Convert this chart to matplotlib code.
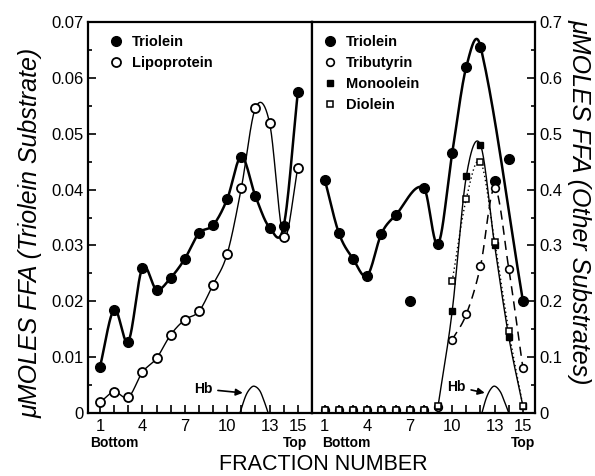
import numpy as np
import matplotlib.pyplot as plt

plt.rcParams['font.family'] = ['Liberation Sans', 'DejaVu Sans']

# fraction numbers (1 = bottom of gradient, 15 = top)
fractions = np.arange(1, 16)

# left panel, umoles FFA with triolein substrate
tri_left = [0.0083, 0.0185, 0.0128, 0.0260, 0.0221, 0.0242, 0.0276, 0.0322,
            0.0336, 0.0383, 0.0459, 0.0388, 0.0332, 0.0335, 0.0575]
lipo_left = [0.0019, 0.0038, 0.0028, 0.0073, 0.0098, 0.0140, 0.0167, 0.0182,
             0.0230, 0.0285, 0.0403, 0.0546, 0.0519, 0.0315, 0.0439]

# right panel, umoles FFA with other substrates
tri_right = [0.418, 0.322, 0.276, 0.246, 0.321, 0.354, 0.200, 0.403,
             0.302, 0.465, 0.620, 0.656, 0.415, 0.454, 0.200]
tri_right_on_curve = [1, 1, 1, 1, 1, 1, 0, 1, 1, 1, 1, 1, 0, 0, 1]
tributyrin = [0.005, 0.005, 0.005, 0.005, 0.005, 0.005, 0.005, 0.005,
              0.010, 0.131, 0.177, 0.263, 0.403, 0.258, 0.080]
monoolein = [0.005, 0.005, 0.005, 0.005, 0.005, 0.005, 0.005, 0.005,
             0.012, 0.182, 0.424, 0.480, 0.300, 0.136, 0.012]
diolein = [0.005, 0.005, 0.005, 0.005, 0.005, 0.005, 0.005, 0.005,
           0.012, 0.236, 0.384, 0.450, 0.307, 0.147, 0.012]

# haemoglobin band outline (fraction, height on each panel's scale)
hb_left_x = [10.9, 11.3, 11.6, 11.9, 12.3, 12.6, 12.9]
hb_left_y = [0.0, 0.0030, 0.0043, 0.0048, 0.0040, 0.0022, 0.0]
hb_right_x = [12.1, 12.4, 12.7, 13.0, 13.4, 13.7, 14.0]
hb_right_y = [0.0, 0.026, 0.042, 0.048, 0.038, 0.020, 0.0]


def smooth(x, y, n=24):
    # cubic hermite curve through the points (cardinal tangents in x),
    # close to the hand-drawn french curves of the original
    x = np.asarray(x, float)
    y = np.asarray(y, float)
    m = np.empty_like(y)
    m[1:-1] = (y[2:] - y[:-2]) / (x[2:] - x[:-2])
    m[0] = (y[1] - y[0]) / (x[1] - x[0])
    m[-1] = (y[-1] - y[-2]) / (x[-1] - x[-2])
    t = np.linspace(0, 1, n, endpoint=False)
    h00 = 2 * t ** 3 - 3 * t ** 2 + 1
    h10 = t ** 3 - 2 * t ** 2 + t
    h01 = -2 * t ** 3 + 3 * t ** 2
    h11 = t ** 3 - t ** 2
    xs, ys = [], []
    for i in range(len(x) - 1):
        h = x[i + 1] - x[i]
        xs.extend(x[i] + h * t)
        ys.extend(h00 * y[i] + h10 * h * m[i] + h01 * y[i + 1] + h11 * h * m[i + 1])
    xs.append(x[-1])
    ys.append(y[-1])
    return np.array(xs), np.array(ys)


fig = plt.figure(figsize=(5.95, 4.76), dpi=100)
axL = fig.add_axes([88 / 595, 63 / 476, 224 / 595, 391 / 476])
axR = fig.add_axes([312 / 595, 63 / 476, 223 / 595, 391 / 476])

# ---- left panel ----
axL.plot(*smooth(fractions, tri_left), color='black', lw=1.8)
axL.plot(*smooth(fractions, lipo_left), color='black', lw=1.0)
axL.plot(fractions, tri_left, 'o', color='black', ms=7, label='Triolein')
axL.plot(fractions, lipo_left, 'o', mfc='white', mec='black', mew=1.3, ms=6.5,
         label='Lipoprotein')
axL.plot(*smooth(hb_left_x, hb_left_y, 12), color='black', lw=1.0)
axL.annotate('Hb', xy=(11.1, 0.0036), xytext=(8.3, 0.0043), ha='center', va='center',
             fontsize=10, fontweight='bold',
             arrowprops=dict(arrowstyle='-|>', color='black', lw=1.2, mutation_scale=10,
                             shrinkA=2, shrinkB=0))

axL.set_xlim(0.15, 16)
axL.set_ylim(0, 0.07)
axL.set_yticks(np.arange(0, 0.0701, 0.01))
axL.set_yticklabels(['0', '0.01', '0.02', '0.03', '0.04', '0.05', '0.06', '0.07'])
axL.set_yticks(np.arange(0.005, 0.07, 0.01), minor=True)
axL.legend(loc='upper left', bbox_to_anchor=(0.04, 1.0), frameon=False, handlelength=0.8,
           handletextpad=0.7, labelspacing=0.5, prop=dict(weight='bold', size=10.5))

# ---- right panel ----
on = np.array(tri_right_on_curve) == 1
axR.plot(*smooth(fractions[on], np.array(tri_right)[on]), color='black', lw=1.8)
axR.plot(*smooth(fractions[9:], tributyrin[9:]), color='black', lw=1.1, ls=(0, (6, 4)))
axR.plot(*smooth(fractions[8:], monoolein[8:]), color='black', lw=1.0)
axR.plot(*smooth(fractions[9:], diolein[9:]), color='black', lw=1.0, ls=(0, (1, 2)))
axR.plot(fractions, tri_right, 'o', color='black', ms=7, label='Triolein')
axR.plot(fractions, tributyrin, 'o', mfc='white', mec='black', mew=1.2, ms=5.5,
         label='Tributyrin')
axR.plot(fractions, monoolein, 's', color='black', ms=4.5, label='Monoolein')
axR.plot(fractions, diolein, 's', mfc='white', mec='black', mew=1.1, ms=4.5, label='Diolein')
axR.plot(*smooth(hb_right_x, hb_right_y, 12), color='black', lw=1.0)
axR.annotate('Hb', xy=(12.3, 0.036), xytext=(10.3, 0.047), ha='center', va='center',
             fontsize=10, fontweight='bold',
             arrowprops=dict(arrowstyle='-|>', color='black', lw=1.2, mutation_scale=10,
                             shrinkA=2, shrinkB=0))

axR.set_xlim(0.1, 15.85)
axR.set_ylim(0, 0.7)
axR.yaxis.tick_right()
axR.set_yticks(np.arange(0, 0.701, 0.1))
axR.set_yticklabels(['0', '0.1', '0.2', '0.3', '0.4', '0.5', '0.6', '0.7'])
axR.set_yticks(np.arange(0.05, 0.7, 0.1), minor=True)
axR.legend(loc='upper left', bbox_to_anchor=(-0.005, 1.0), frameon=False, handlelength=0.8,
           handletextpad=0.7, labelspacing=0.48, prop=dict(weight='bold', size=10.5))

for ax in (axL, axR):
    ax.set_xticks(fractions)
    ax.set_xticklabels([str(f) if f in (1, 4, 7, 10, 13, 15) else '' for f in fractions])
    ax.tick_params(which='both', direction='in', labelsize=12, width=1.2, color='black')
    ax.tick_params(which='major', length=6)
    ax.tick_params(which='minor', length=3)
    ax.tick_params(axis='x', pad=4)
    ax.tick_params(axis='y', pad=3)
    for s in ax.spines.values():
        s.set_linewidth(1.6)

axL.text(2.0, -0.078, 'Bottom', transform=axL.get_xaxis_transform(), ha='center',
         va='center', fontsize=10, fontweight='bold')
axL.text(14.8, -0.078, 'Top', transform=axL.get_xaxis_transform(), ha='center',
         va='center', fontsize=10, fontweight='bold')
axR.text(2.5, -0.078, 'Bottom', transform=axR.get_xaxis_transform(), ha='center',
         va='center', fontsize=10, fontweight='bold')
axR.text(15.0, -0.078, 'Top', transform=axR.get_xaxis_transform(), ha='center',
         va='center', fontsize=10, fontweight='bold')

fig.text(323 / 595, 1 - 464 / 476, 'FRACTION NUMBER', ha='center', va='center', fontsize=15.5)
fig.text(31 / 595, 1 - 233 / 476, 'μMOLES FFA (Triolein Substrate)', rotation=90,
         ha='center', va='center', fontsize=18, style='italic')
fig.text(580 / 595, 1 - 202 / 476, 'μMOLES FFA (Other Substrates)', rotation=-90,
         ha='center', va='center', fontsize=18, style='italic')

fig.savefig('out.png', dpi=100)
